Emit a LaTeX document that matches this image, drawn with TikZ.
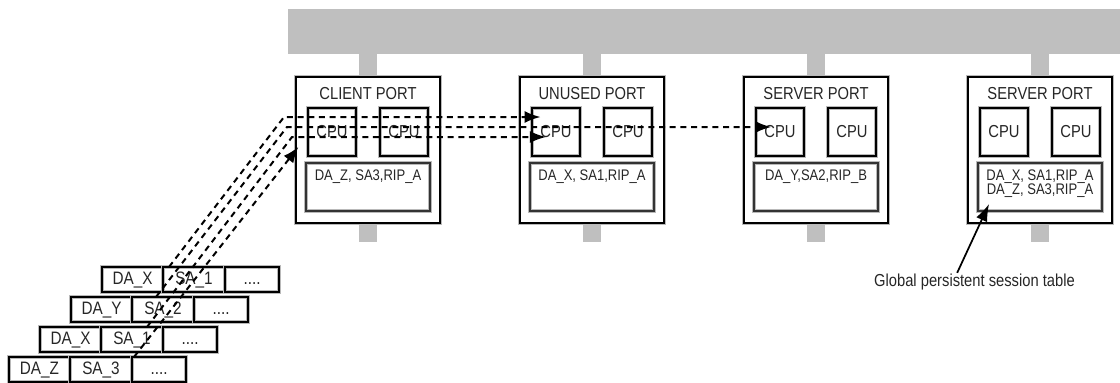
\documentclass[tikz,border=0pt]{standalone}
\usepackage{fontspec}
\setmainfont{Liberation Sans}
\newfontfamily\portfont{Liberation Sans}[FakeStretch=0.85]
\usetikzlibrary{positioning,arrows.meta,backgrounds}

\tikzset{
  bus/.style={fill=gray!50, inner sep=0pt, outer sep=0pt},
  halo/.style={preaction={draw=gray!55, line width=#1}},
  port/.style={draw, fill=white, line width=1.2pt, halo=3pt,
    minimum width=108pt, minimum height=109.5pt, inner sep=0pt, outer sep=0pt},
  title/.style={font=\portfont\fontsize{13}{15}\selectfont, text=black!85},
  cpu/.style={draw, line width=1.1pt, halo=2.8pt, minimum size=36pt, inner sep=0pt,
    font=\portfont\fontsize{13}{15}\selectfont, text=black!85},
  tab/.style={draw=black!80, line width=1.4pt, halo=3.2pt, minimum width=93pt,
    minimum height=36pt, inner sep=0pt},
  tabtxt/.style={anchor=north, inner ysep=5.5pt, align=center, text=black!85,
    font=\portfont\fontsize{11.5}{10.5}\selectfont},
  cell/.style={draw, line width=1.1pt, halo=2.6pt, minimum height=18.75pt, inner sep=0pt,
    outer sep=0pt, text height=9.6pt, text depth=1.8pt, text=black!85,
    font=\portfont\fontsize{13.5}{15}\selectfont},
  da/.style={cell, minimum width=45.75pt},
  sa/.style={cell, on grid=false, minimum width=46.5pt},
  dt/.style={cell, on grid=false, minimum width=40.5pt},
  flow/.style={line width=1.5pt, dash pattern=on 4.5pt off 3.5pt,
    -{Latex[length=12pt,width=9pt]}},
  note/.style={font=\portfont\fontsize{13}{15}\selectfont, inner sep=1pt, text=black!85},
  pointer/.style={line width=1.3pt, -{Latex[length=13pt,width=9pt]}}
}

\begin{document}
\begin{tikzpicture}[x=0.75pt, y=-0.75pt, node distance=168pt, on grid]
\useasboundingbox (0,0) rectangle (1120,382);

% backbone and the four ports
\node[bus, anchor=north west, minimum width=624pt, minimum height=33.75pt] (bus) at (288,9) {};
\node[port] (clnt) at (368,150) {};
\node[port] (unus) [right=of clnt] {};
\node[port] (srv1) [right=of unus] {};
\node[port] (srv2) [right=of srv1] {};

\begin{scope}[on background layer]
  \foreach \p in {clnt,unus,srv1,srv2}
    \fill[bus] ([xshift=-6.75pt]\p.north |- bus.south) rectangle ([xshift=6.75pt,yshift=-14.25pt]\p.south);
\end{scope}

\node[title, above=42pt of clnt] (clnt-t) {CLIENT PORT};
\node[title, above=42pt of unus] (unus-t) {UNUSED PORT};
\node[title, above=42pt of srv1] (srv1-t) {SERVER PORT};
\node[title, above=42pt of srv2] (srv2-t) {SERVER PORT};

\node[cpu] (clnt-c1) [above left=13.5pt and 27pt of clnt] {CPU};
\node[cpu] (clnt-c2) [above right=13.5pt and 27pt of clnt] {CPU};
\node[cpu] (unus-c1) [above left=13.5pt and 27pt of unus] {CPU};
\node[cpu] (unus-c2) [above right=13.5pt and 27pt of unus] {CPU};
\node[cpu] (srv1-c1) [above left=13.5pt and 27pt of srv1] {CPU};
\node[cpu] (srv1-c2) [above right=13.5pt and 27pt of srv1] {CPU};
\node[cpu] (srv2-c1) [above left=13.5pt and 27pt of srv2] {CPU};
\node[cpu] (srv2-c2) [above right=13.5pt and 27pt of srv2] {CPU};

% session tables
\node[tab, below=27.75pt of clnt, label={[tabtxt]north:{DA\_Z, SA3,RIP\_A}}] (clnt-tb) {};
\node[tab, below=27.75pt of unus, label={[tabtxt]north:{DA\_X, SA1,RIP\_A}}] (unus-tb) {};
\node[tab, below=27.75pt of srv1, label={[tabtxt]north:{DA\_Y,SA2,RIP\_B}}] (srv1-tb) {};
\node[tab, below=27.75pt of srv2, label={[tabtxt]north:{DA\_X, SA1,RIP\_A\\DA\_Z, SA3,RIP\_A}}] (srv2-tb) {};

% incoming packets
\node[da] (r1-da) at (132.5,279.5) {DA\_X};
\node[sa, right=0pt of r1-da] (r1-sa) {SA\_1};
\node[dt, right=0pt of r1-sa] (r1-dt) {....};
\node[da, below left=22.5pt and 23.25pt of r1-da] (r2-da) {DA\_Y};
\node[sa, right=0pt of r2-da] (r2-sa) {SA\_2};
\node[dt, right=0pt of r2-sa] (r2-dt) {....};
\node[da, below left=22.5pt and 23.25pt of r2-da] (r3-da) {DA\_X};
\node[sa, right=0pt of r3-da] (r3-sa) {SA\_1};
\node[dt, right=0pt of r3-sa] (r3-dt) {....};
\node[da, below left=22.5pt and 23.25pt of r3-da] (r4-da) {DA\_Z};
\node[sa, right=0pt of r4-da] (r4-sa) {SA\_3};
\node[dt, right=0pt of r4-sa] (r4-dt) {....};

% packet paths
\coordinate (b1) at ([shift={(-12,-33)}]clnt.west);
\coordinate (b2) at ([shift={(-9,-23)}]clnt.west);
\coordinate (b3) at ([shift={(-4,-13)}]clnt.west);
\draw[flow, shorten >=-7pt] ([xshift=4.5pt]r1-sa.north west) -- (b1) -- (b1 -| unus-c1.west);
\draw[flow, shorten >=-12pt] ([xshift=18pt]r2-sa.north west) -- (b2) -- (b2 -| srv1-c1.west);
\draw[flow, shorten >=-11pt] ([xshift=34.5pt]r3-sa.north west) -- (b3) -- (b3 -| unus-c1.west);
\draw[flow, shorten >=-3pt] ([xshift=1.5pt]r4-sa.north east) -- (clnt.west);

\node[note] (note) at (974.5,282.5) {Global persistent session table};
\draw[pointer] ([xshift=-13pt]note.north) -- ([shift={(12,-8)}]srv2-tb.south west);
\end{tikzpicture}
\end{document}
